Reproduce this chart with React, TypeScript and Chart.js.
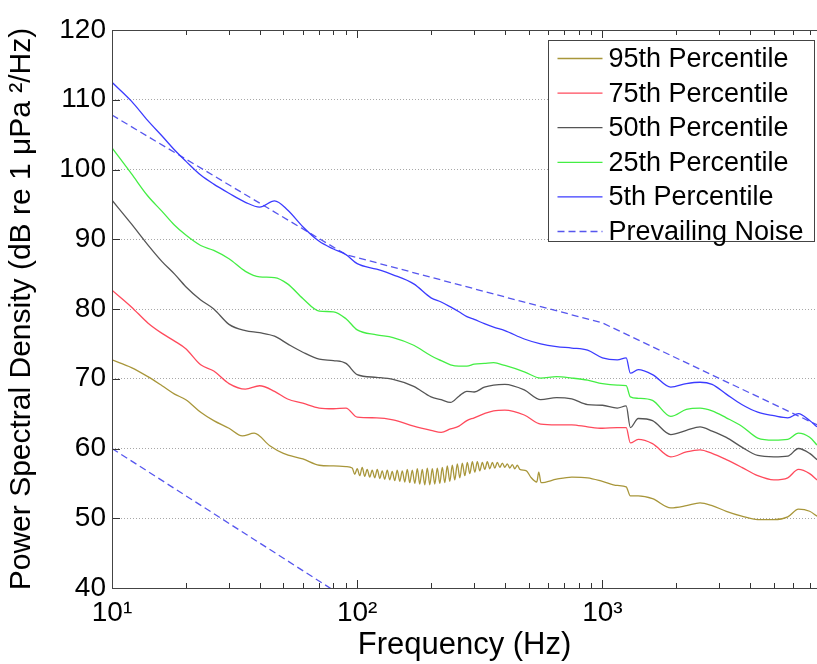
import React, { useEffect, useRef } from "react";
import { Chart, registerables } from "chart.js";

Chart.register(...registerables);

// ---------------- data ----------------
const FREQ = [
  10, 12, 14, 16, 18, 20, 23, 26, 30, 35,
  40, 46, 52, 60, 70, 80, 90, 100, 120, 140,
  170, 200, 220, 240, 260, 280, 300, 330, 360, 400,
  480, 560, 650, 750, 870, 1000, 1150, 1250, 1300, 1400,
  1600, 1900, 2200, 2500, 2800, 3200, 3700, 4300, 5000, 5700,
  6300, 7000, 7500,
];

const P5 = [
  112.5, 109.8, 107.0, 104.8, 102.8, 101.2, 99.2, 97.9, 96.6, 95.3,
  94.6, 95.5, 94.2, 91.8, 89.7, 88.6, 87.8, 86.5, 85.7, 84.9,
  83.6, 81.6, 81.0, 80.3, 79.6, 78.9, 78.5, 77.9, 77.4, 76.9,
  75.7, 75.0, 74.6, 74.4, 74.1, 73.0, 72.7, 73.0, 70.8, 71.3,
  70.6, 68.8, 69.3, 69.5, 69.2, 67.8, 66.3, 65.2, 64.7, 64.4,
  65.0, 64.0, 63.1,
];

const P25 = [
  103.1, 99.4, 96.2, 94.0, 92.0, 90.6, 89.1, 88.4, 87.2, 85.4,
  84.6, 84.5, 83.6, 81.5, 79.7, 79.6, 78.6, 77.0, 76.3, 75.9,
  74.8, 73.3, 72.6, 72.0, 71.8, 71.8, 72.1, 72.2, 72.3, 71.9,
  71.0, 70.1, 70.3, 70.1, 69.8, 69.3, 69.1, 69.0, 67.4, 67.2,
  66.9, 64.6, 65.6, 65.8, 65.4, 64.4, 63.2, 61.5, 61.2, 61.3,
  62.2, 61.6, 60.5,
];

const P50 = [
  95.6, 92.2, 89.2, 86.8, 85.0, 83.2, 81.3, 80.0, 77.8, 76.9,
  76.6, 76.1, 75.0, 73.8, 72.8, 72.6, 72.2, 70.6, 70.2, 69.9,
  68.9, 67.4, 67.0, 66.6, 67.5, 68.2, 68.1, 68.8, 69.1, 69.2,
  68.4, 67.0, 67.3, 67.1, 66.3, 66.2, 65.8, 66.1, 63.0, 64.3,
  64.0, 62.0, 62.6, 63.1, 62.5, 61.6, 60.2, 59.0, 58.8, 58.9,
  60.0, 59.3, 58.4,
];

const P75 = [
  82.7, 80.3, 78.0, 76.5, 75.4, 74.3, 72.0, 71.1, 69.3, 68.5,
  69.0, 68.2, 67.1, 66.5, 65.8, 65.7, 65.8, 64.5, 64.4, 64.1,
  63.2, 62.6, 62.3, 62.8, 63.2, 64.0, 64.4, 65.0, 65.4, 65.5,
  64.8, 63.5, 63.4, 63.4, 63.1, 62.9, 63.0, 63.0, 60.8, 61.3,
  60.7, 58.8, 59.5, 59.8, 59.3, 58.4, 57.3, 56.1, 55.5, 55.8,
  57.0, 56.4, 55.5,
];

// 95th percentile: smooth low part, rippled middle, smooth high part
const P95_LOW_FREQ = [10, 12, 14, 16, 18, 20, 23, 26, 30, 34, 38, 44, 50, 60, 70, 80, 90];
const P95_LOW = [72.7, 71.6, 70.3, 69.0, 67.8, 67.0, 65.2, 64.0, 62.9, 61.8, 62.2, 60.4, 59.3, 58.5, 57.6, 57.5, 57.4];

const P95_RIPPLE_FREQ = [
  95.4, 97.7, 100, 102.4, 104.8, 107.3, 109.8, 112.5, 115.1, 117.9,
  120.7, 123.6, 126.5, 129.5, 132.6, 135.7, 138.9, 142.3, 145.6, 149.1,
  152.7, 156.3, 160.0, 163.8, 167.7, 171.7, 175.8, 179.9, 184.2, 188.6,
  193.1, 197.7, 202.4, 207.2, 212.1, 217.2, 222.3, 227.6, 233.0, 238.6,
  244.2, 250.0, 256.0, 262.1, 268.3, 274.7, 281.2, 287.9, 294.8, 301.8,
  308.9, 316.2, 323.7, 331.4, 339.3, 347.4, 355.6, 364.1, 372.8, 381.6,
  390.7, 400.0, 409.5, 419.2, 429.2, 439.4, 449.8, 460.5,
];
const P95_RIPPLE = [
  57.2, 56.3, 57.1, 56.1, 57.3, 56.0, 57.0, 55.9, 56.9, 55.8,
  57.0, 55.7, 56.8, 55.6, 56.9, 55.5, 56.7, 55.4, 56.9, 55.3,
  56.8, 55.2, 57.0, 55.1, 56.9, 55.0, 57.1, 54.9, 57.0, 54.8,
  57.2, 54.8, 57.1, 54.9, 57.2, 55.0, 57.3, 55.1, 57.5, 55.3,
  57.6, 55.5, 57.8, 55.8, 57.9, 56.1, 58.0, 56.4, 58.1, 56.6,
  58.1, 56.8, 58.0, 57.0, 58.1, 57.1, 58.0, 57.2, 58.0, 57.3,
  57.9, 57.3, 57.8, 57.2, 57.7, 57.1, 57.6, 57.0,
];

const P95_HIGH_FREQ = [
  490, 510, 540, 550, 562, 650, 750, 870, 1000, 1150,
  1250, 1300, 1400, 1600, 1900, 2200, 2500, 2800, 3200, 3700,
  4300, 5000, 5700, 6300, 7000, 7500,
];
const P95_HIGH = [
  56.8, 55.9, 55.2, 56.6, 55.1, 55.6, 55.9, 55.8, 55.3, 54.7,
  54.5, 53.2, 53.2, 52.8, 51.5, 51.8, 52.2, 51.8, 51.0, 50.3,
  49.8, 49.8, 50.2, 51.3, 51.0, 50.3,
];

const PREVAIL_FREQ = [10, 90, 1000, 7500];
const PREVAIL = [107.8, 87.8, 78.0, 63.4];

const LOWLINE_FREQ = [10, 100];
const LOWLINE = [60.0, 37.5];

const X_TICKS = [10, 100, 1000];
const X_TICK_LABELS = ["10\u00B9", "10\u00B2", "10\u00B3"];
const X_MINOR_MULT = [2, 3, 4, 5, 6, 7, 8, 9];
const X_MIN = 10;
const X_MAX = 7500;
const Y_MIN = 40;
const Y_MAX = 120;
const Y_STEP = 10;

const LABELS = [
  "95th Percentile",
  "75th Percentile",
  "50th Percentile",
  "25th Percentile",
  "5th Percentile",
  "Prevailing Noise",
];

// ---------------- styles ----------------
const FONT = "'Liberation Sans', Arial, Helvetica, sans-serif";
const COLORS = {
  p95: "#a8963a",
  p75: "#ff4a5c",
  p50: "#555555",
  p25: "#44ee44",
  p5: "#3b3bff",
  prevail: "#5656ee",
};

const toPts = (xs: number[], ys: number[]) => xs.map((x, i) => ({ x, y: ys[i] }));

const framePlugin = {
  id: "frame",
  afterDraw(chart: any) {
    const { ctx, chartArea: a, scales } = chart;
    const xs = scales.x;
    const ys = scales.y;
    ctx.save();
    ctx.strokeStyle = "#333";
    ctx.lineWidth = 1;
    ctx.beginPath();
    X_TICKS.forEach((d) => {
      const px = Math.round(xs.getPixelForValue(d)) + 0.5;
      ctx.moveTo(px, a.bottom);
      ctx.lineTo(px, a.bottom - 8);
      ctx.moveTo(px, a.top);
      ctx.lineTo(px, a.top + 8);
      X_MINOR_MULT.forEach((m) => {
        const v = d * m;
        if (v > X_MAX) return;
        const mx = Math.round(xs.getPixelForValue(v)) + 0.5;
        ctx.moveTo(mx, a.bottom);
        ctx.lineTo(mx, a.bottom - 5);
        ctx.moveTo(mx, a.top);
        ctx.lineTo(mx, a.top + 5);
      });
    });
    for (let v = Y_MIN; v <= Y_MAX; v += Y_STEP) {
      const py = Math.round(ys.getPixelForValue(v)) + 0.5;
      ctx.moveTo(a.left, py);
      ctx.lineTo(a.left + 8, py);
    }
    ctx.stroke();
    ctx.strokeStyle = "#444";
    ctx.strokeRect(Math.round(a.left) + 0.5, Math.round(a.top) + 0.5, Math.round(a.right - a.left), Math.round(a.bottom - a.top));
    ctx.restore();
  },
};

const legendPlugin = {
  id: "boxLegend",
  afterDraw(chart: any) {
    const { ctx, chartArea: a } = chart;
    const items = chart.data.datasets.filter((d: any) => d.label);
    const w = 266;
    const h = 201;
    const left = Math.round(a.right - w - 3) + 0.5;
    const top = Math.round(a.top + 10) + 0.5;
    ctx.save();
    ctx.fillStyle = "#ffffff";
    ctx.fillRect(left, top, w, h);
    ctx.strokeStyle = "#444";
    ctx.lineWidth = 1;
    ctx.strokeRect(left, top, w, h);
    ctx.font = `27px ${FONT}`;
    ctx.textBaseline = "middle";
    ctx.textAlign = "left";
    items.forEach((d: any, i: number) => {
      const y = top + 18 + i * 34.6;
      ctx.strokeStyle = d.borderColor;
      ctx.lineWidth = 1.3;
      ctx.setLineDash(d.borderDash || []);
      ctx.beginPath();
      ctx.moveTo(left + 9, y);
      ctx.lineTo(left + 54, y);
      ctx.stroke();
      ctx.setLineDash([]);
      ctx.fillStyle = "#000";
      ctx.fillText(d.label, left + 60, y + 1);
    });
    ctx.restore();
  },
};

export default function App() {
  const ref = useRef<HTMLCanvasElement | null>(null);

  useEffect(() => {
    if (!ref.current) return;
    const line = (label: string | undefined, data: any[], color: string, dash?: number[], smooth = true) => ({
      label,
      data,
      borderColor: color,
      backgroundColor: color,
      borderWidth: 1.3,
      borderDash: dash,
      pointRadius: 0,
      cubicInterpolationMode: smooth ? "monotone" : "default",
      tension: 0,
      fill: false,
    });
    const chart = new Chart(ref.current, {
      type: "line",
      data: {
        datasets: [
          line(LABELS[0], toPts([...P95_LOW_FREQ, ...P95_RIPPLE_FREQ, ...P95_HIGH_FREQ], [...P95_LOW, ...P95_RIPPLE, ...P95_HIGH]), COLORS.p95),
          line(LABELS[1], toPts(FREQ, P75), COLORS.p75),
          line(LABELS[2], toPts(FREQ, P50), COLORS.p50),
          line(LABELS[3], toPts(FREQ, P25), COLORS.p25),
          line(LABELS[4], toPts(FREQ, P5), COLORS.p5),
          line(LABELS[5], toPts(PREVAIL_FREQ, PREVAIL), COLORS.prevail, [7, 4], false),
          line(undefined, toPts(LOWLINE_FREQ, LOWLINE), COLORS.prevail, [7, 4], false),
        ],
      },
      options: {
        animation: false,
        responsive: false,
        maintainAspectRatio: false,
        layout: { padding: { top: 30, right: 0, left: 0, bottom: 0 } },
        plugins: { legend: { display: false }, tooltip: { enabled: false } },
        scales: {
          x: {
            type: "logarithmic",
            min: X_MIN,
            max: X_MAX,
            afterBuildTicks: (s: any) => {
              s.ticks = X_TICKS.map((v) => ({ value: v }));
            },
            afterFit: (s: any) => {
              s.height = 76;
            },
            ticks: {
              autoSkip: false,
              maxRotation: 0,
              padding: 8,
              color: "#000",
              font: { family: FONT, size: 28 },
              callback: (v: any) => {
                const i = X_TICKS.indexOf(Number(v));
                return i >= 0 ? X_TICK_LABELS[i] : "";
              },
            },
            grid: { display: false, drawTicks: false, tickLength: 0 },
            border: { display: false },
            title: {
              display: true,
              text: "Frequency (Hz)",
              color: "#000",
              font: { family: FONT, size: 31 },
              padding: { top: 0, bottom: 0 },
            },
          },
          y: {
            type: "linear",
            min: Y_MIN,
            max: Y_MAX,
            afterFit: (s: any) => {
              s.width = 112;
            },
            ticks: {
              stepSize: Y_STEP,
              padding: 6,
              color: "#000",
              font: { family: FONT, size: 28 },
            },
            grid: { color: "#a8a8a8", lineWidth: 1, drawTicks: false },
            border: { display: false, dash: [1, 2] },
            title: {
              display: true,
              text: "Power Spectral Density (dB re 1 \u03BCPa \u00B2/Hz)",
              color: "#000",
              font: { family: FONT, size: 30 },
              padding: { top: 4, bottom: 0 },
            },
          },
        },
      },
      plugins: [framePlugin, legendPlugin],
    } as any);
    return () => chart.destroy();
  }, []);

  return (
    <div style={{ position: "fixed", left: 0, top: 0, width: 817, height: 664, background: "#fff" }}>
      <canvas ref={ref} width={817} height={664} style={{ display: "block" }} />
    </div>
  );
}
